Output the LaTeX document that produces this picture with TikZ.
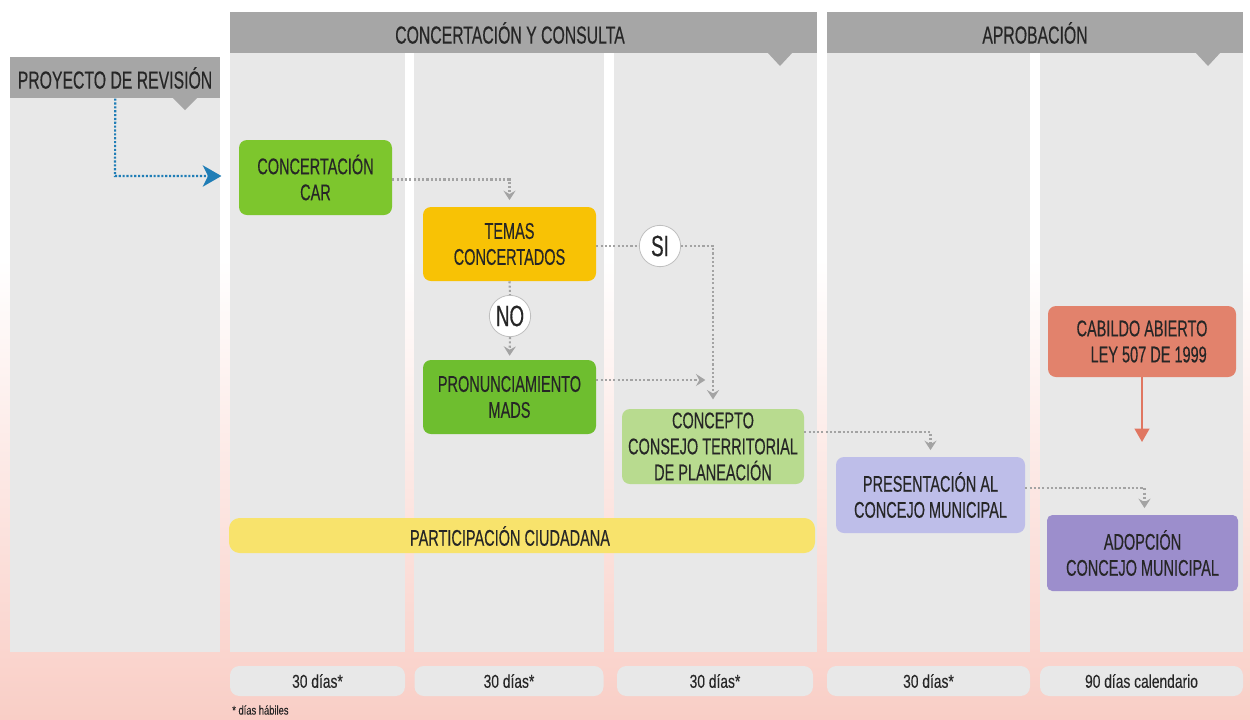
\documentclass[tikz,border=0pt]{standalone}
\usepackage{fontspec}
\setmainfont{Liberation Sans}[FakeStretch=0.64,FakeBold=0.35]
\newfontfamily\pillfont{Liberation Sans}[FakeStretch=0.74,FakeBold=0.2]
\usetikzlibrary{arrows.meta,positioning,calc}
\definecolor{txt}{HTML}{262626}
\definecolor{colgray}{HTML}{E8E8E8}
\definecolor{hdrgray}{HTML}{A6A6A6}
\definecolor{pinkbg}{HTML}{F9CEC6}
\definecolor{dotgray}{HTML}{A3A3A3}
\definecolor{arrblue}{HTML}{1F7DB6}
\definecolor{gcar}{HTML}{7DC62D}
\definecolor{gmads}{HTML}{6EBE2F}
\definecolor{ytemas}{HTML}{F8C205}
\definecolor{gconc}{HTML}{B8DB8F}
\definecolor{ypart}{HTML}{F8E36C}
\definecolor{lpres}{HTML}{BEBEE9}
\definecolor{scab}{HTML}{E2826C}
\definecolor{padop}{HTML}{9C8ECC}
\definecolor{salarrow}{HTML}{E07661}
\begin{document}
\begin{tikzpicture}[x=0.75pt,y=-0.75pt,
  hdrbox/.style={fill=hdrgray,inner sep=0pt},
  hdrtext/.style={text=txt,font=\fontsize{18.5}{20}\selectfont},
  procbox/.style={rounded corners=6pt,inner sep=0pt,align=center,text=txt,
     font=\fontsize{17}{19.5}\selectfont},
  decision/.style={circle,fill=white,draw=dotgray!70,line width=0.6pt,minimum size=31pt,inner sep=0pt,
     text=txt,font=\fontsize{22}{22}\selectfont},
  pill/.style={fill=colgray,rounded corners=7pt,inner sep=0pt,minimum height=22.5pt,text=txt,
     font=\pillfont\fontsize{14}{15}\selectfont},
  flow/.style={draw=dotgray,line width=1.6pt,dash pattern=on 1.6pt off 1.6pt,
     -{Stealth[length=7pt,width=9pt,inset=2.5pt]}},
  flowplain/.style={draw=dotgray,line width=1.6pt,dash pattern=on 1.6pt off 1.6pt},
  blueflow/.style={draw=arrblue,line width=1.6pt,dash pattern=on 1.6pt off 1.3pt,
     -{Stealth[length=14pt,width=16pt,inset=4pt]}},
  salflow/.style={draw=salarrow,line width=1.6pt,-{Triangle[length=10pt,width=11pt]}}
]
\useasboundingbox (0,0) rectangle (1250,719);
% background
\fill[white] (0,0) rectangle (1250,260);
\shade[top color=white,bottom color=pinkbg] (0,259) rectangle (1250,719);
% columns
\fill[colgray] (10,98) rectangle (220,652);
\fill[colgray] (230,53) rectangle (405,652);
\fill[colgray] (414,53) rectangle (604,652);
\fill[colgray] (614,53) rectangle (817,652);
\fill[colgray] (827,53) rectangle (1030,652);
\fill[colgray] (1040,53) rectangle (1243,652);
% headers
\node[hdrbox,minimum width=440.25pt,minimum height=30.75pt,anchor=north west] (hconc) at (230,12) {};
\node[hdrtext] (tconc) at (510,33) {CONCERTACIÓN Y CONSULTA};
\fill[hdrgray] (767,52) -- (793,52) -- (780,66) -- cycle;
\node[hdrbox,minimum width=312pt,minimum height=30.75pt,anchor=north west] (haprob) at (827,12) {};
\node[hdrtext] (taprob) at (1035,33) {APROBACIÓN};
\fill[hdrgray] (1195,52) -- (1221,52) -- (1208,66) -- cycle;
\node[hdrbox,minimum width=157.5pt,minimum height=30.75pt,anchor=north west] (proy) at (10,57) {};
\node[hdrtext] (tproy) at (115,78) {PROYECTO DE REVISIÓN};
\fill[hdrgray] (172,97) -- (198,97) -- (185,110) -- cycle;
% process boxes
\node[procbox,fill=gcar,minimum width=114.75pt,minimum height=56.25pt] (car) at (315.5,177.5) {CONCERTACIÓN\\CAR};
\node[procbox,fill=ytemas,minimum width=129.75pt,minimum height=55.5pt] (temas) at (509.5,244) {TEMAS\\CONCERTADOS};
\node[procbox,fill=gmads,minimum width=129.75pt,minimum height=55.5pt] (pron) at (509.5,397) {PRONUNCIAMIENTO\\MADS};
\node[procbox,fill=gconc,minimum width=136.5pt,minimum height=56.25pt] (concepto) at (713,446.5) {CONCEPTO\\CONSEJO TERRITORIAL\\DE PLANEACIÓN};
\node[procbox,fill=ypart,rounded corners=8pt,minimum width=439.5pt,minimum height=26.25pt] (part) at (522,535.5) {};
\node[text=txt,font=\fontsize{17}{19.5}\selectfont] (tpart) at (510,536) {PARTICIPACIÓN CIUDADANA};
\node[procbox,fill=lpres,minimum width=141.75pt,minimum height=57pt] (pres) at (930.5,495) {PRESENTACIÓN AL\\CONCEJO MUNICIPAL};
\node[procbox,fill=scab,minimum width=141pt,minimum height=53.25pt] (cab) at (1142,341.5) {CABILDO ABIERTO\\\hspace*{10pt}LEY 507 DE 1999};
\node[procbox,fill=padop,rounded corners=4pt,minimum width=143.25pt,minimum height=57pt] (adop) at (1142.5,553) {ADOPCIÓN\\CONCEJO MUNICIPAL};
% decisions
\node[decision] (si) at (660,246) {SI};
\node[decision] (no) at (510,316) {NO};
% coordinates
\coordinate (j1) at (712,380);
\coordinate (c2) at (931,432);
\coordinate (c3) at (1144,488);
\coordinate (c4) at (1142,442);
\coordinate (b1) at (115,176);
% connectors
\draw[blueflow,shorten >=13pt] (proy.south) -- (b1) -- (b1 -| car.west);
\draw[flow,shorten >=5pt] ([yshift=-1.5pt]car.east) -| (temas.north);
\draw[flowplain] (temas.south) -- (no.north);
\draw[flow,shorten >=3pt] (no.south) -- (pron.north);
\draw[flowplain] (temas.east |- si) -- (si.west);
\draw[flow,shorten >=7pt] (si.east) -| (concepto.north);
\draw[flow,shorten >=5pt] (pron.east |- j1) -- (j1);
\draw[flow,shorten >=5pt] (concepto.east |- c2) -| (pres.north);
\draw[flow,shorten >=5pt] (pres.east |- c3) -| ([xshift=1.5pt]adop.north);
\draw[salflow] (cab.south) -- (c4);
% duration pills
\node[pill,minimum width=131.25pt] (d1) at (317.5,681) {30 días*};
\node[pill,minimum width=141.75pt] (d2) at (509,681) {30 días*};
\node[pill,minimum width=147pt] (d3) at (715,681) {30 días*};
\node[pill,minimum width=152.25pt] (d4) at (928.5,681) {30 días*};
\node[pill,minimum width=152.25pt] (d5) at (1141.5,681) {90 días calendario};
\node[anchor=west,text=txt,font=\pillfont\fontsize{9.5}{11}\selectfont,inner sep=0pt] (fn) at (232,710) {* días hábiles};
\end{tikzpicture}
\end{document}
